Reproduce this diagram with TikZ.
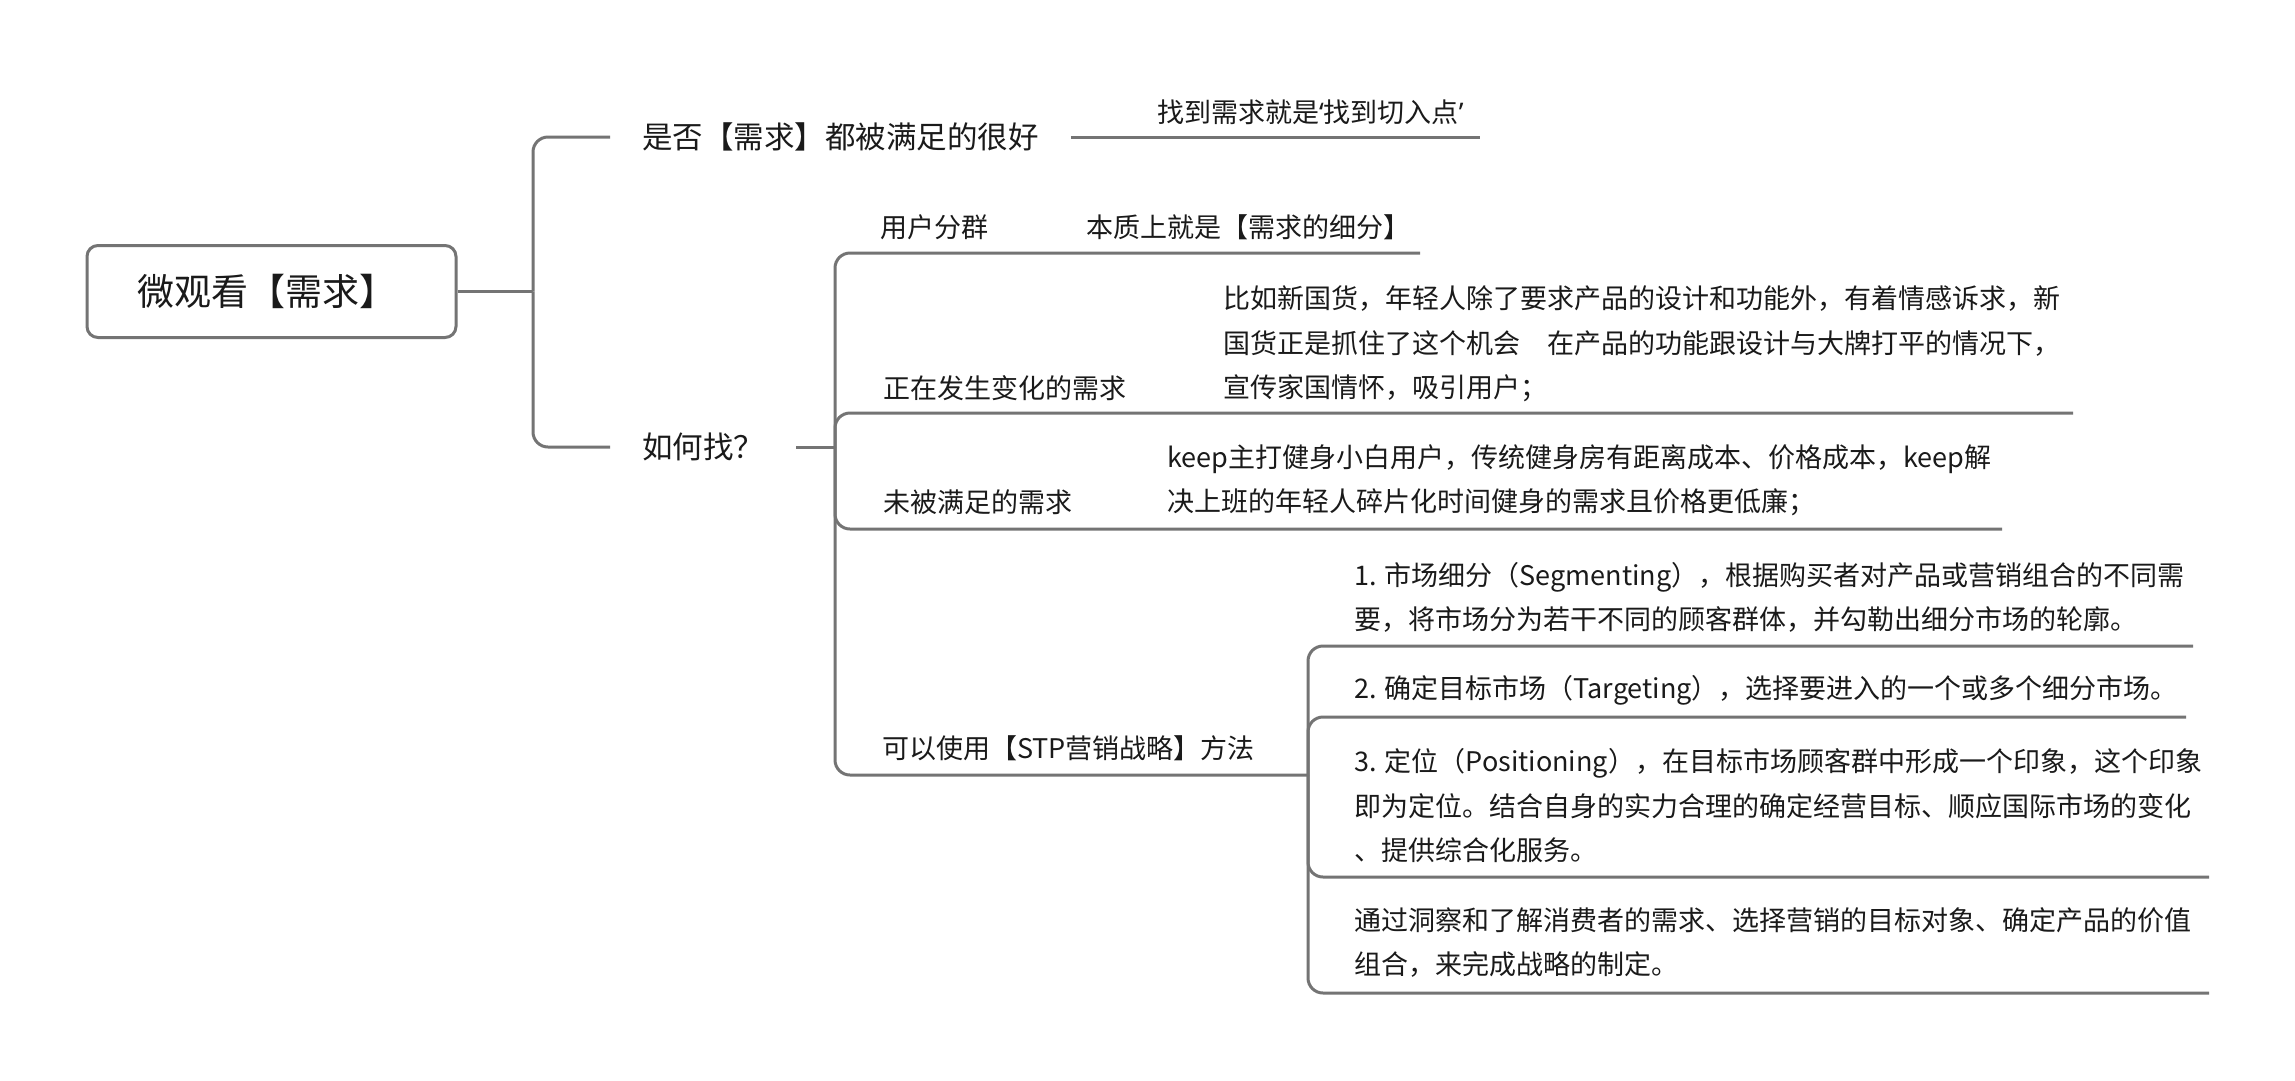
\documentclass[tikz,border=0pt]{standalone}
\usepackage{fontspec}
\setmainfont{Noto Sans CJK SC}
\newfontfamily\latinq{Noto Sans}
\definecolor{linegray}{HTML}{747474}
\definecolor{txt}{HTML}{1A1A1A}
\newcommand\myRootFont{\fontsize{37}{42}\selectfont}
\newcommand\myMidFont{\fontsize{30.5}{36}\selectfont}
\newcommand\myLeafFont{\fontsize{27}{44.5}\selectfont}
\begin{document}
\begin{tikzpicture}[x=1pt,y=-1pt,
  conn/.style={draw=linegray, line width=3pt, rounded corners=15pt},
  rootbox/.style={draw=linegray, line width=3pt, rounded corners=11pt, fill=white,
    minimum width=369pt, minimum height=92pt, inner sep=0pt, font=\myRootFont, text=txt},
  midtext/.style={anchor=west, inner xsep=32pt, inner ysep=0pt, font=\myMidFont, text=txt},
  leaf/.style={anchor=west, inner sep=0pt, font=\myLeafFont, text=txt, align=left},
]
\fill[white] (0,0) rectangle (2295,1080);
\useasboundingbox (0,0) rectangle (2295,1080);

% root and first level
\node[rootbox] (root) at (271.5,291.5) {\hspace*{-10pt}微观看【需求】};
\coordinate (t1) at (533,291.5);
\node[midtext] (q1) at (610,137) {是否【需求】都被满足的很好};
\node[midtext] (q2) at (610,447) {如何找？};
\draw[conn] (root.east) -- (t1);
\draw[conn] (t1) |- (q1.west);
\draw[conn] (t1) |- (q2.west);

% child of q1
\node[leaf] (c1) at (1157,112) {找到需求就是{\latinq ‘}找到切入点{\latinq ’}};
\coordinate (c1e) at (1480,137);
\draw[conn] (q1.east) -- (c1e);

% children of q2
\coordinate (t2) at (835,447);
\draw[conn] (q2.east) -- (t2);

\node[leaf] (a1) at (880,227) {用户分群};
\node[leaf] (a1d) at (1086,227) {本质上就是【需求的细分】};
\coordinate (a1e) at (1420,253);
\draw[conn] (t2) |- (a1e);

\node[leaf] (a2) at (883,388) {正在发生变化的需求};
\node[leaf] (a2d) at (1223,344) {比如新国货，年轻人除了要求产品的设计和功能外，有着情感诉求，新\\国货正是抓住了这个机会\hspace{1em}在产品的功能跟设计与大牌打平的情况下，\\宣传家国情怀，吸引用户；};
\coordinate (a2e) at (2073,413);
\draw[conn] (t2) |- (a2e);

\node[leaf] (a3) at (883,502) {未被满足的需求};
\node[leaf] (a3d) at (1167,480) {keep主打健身小白用户，传统健身房有距离成本、价格成本，keep解\\决上班的年轻人碎片化时间健身的需求且价格更低廉；};
\coordinate (a3e) at (2002,529);
\draw[conn] (t2) |- (a3e);

\node[leaf] (a4) at (882,748) {可以使用【STP营销战略】方法};
\coordinate (t3) at (1308,775);
\draw[conn] (t2) |- (t3);

% STP children
\node[leaf] (s1) at (1354,597.5) {1. 市场细分（Segmenting），根据购买者对产品或营销组合的不同需\\要，将市场分为若干不同的顾客群体，并勾勒出细分市场的轮廓。};
\coordinate (s1e) at (2193,646);
\draw[conn] (t3) |- (s1e);

\node[leaf] (s2) at (1354,690) {2. 确定目标市场（Targeting），选择要进入的一个或多个细分市场。};
\coordinate (s2e) at (2186,717);
\draw[conn] (t3) |- (s2e);

\node[leaf] (s3) at (1354,806) {3. 定位（Positioning），在目标市场顾客群中形成一个印象，这个印象\\即为定位。结合自身的实力合理的确定经营目标、顺应国际市场的变化\\、提供综合化服务。};
\coordinate (s3e) at (2209,877);
\draw[conn] (t3) |- (s3e);

\node[leaf] (s4) at (1354,942.5) {通过洞察和了解消费者的需求、选择营销的目标对象、确定产品的价值\\组合，来完成战略的制定。};
\coordinate (s4e) at (2209,993);
\draw[conn] (t3) |- (s4e);
\end{tikzpicture}
\end{document}
